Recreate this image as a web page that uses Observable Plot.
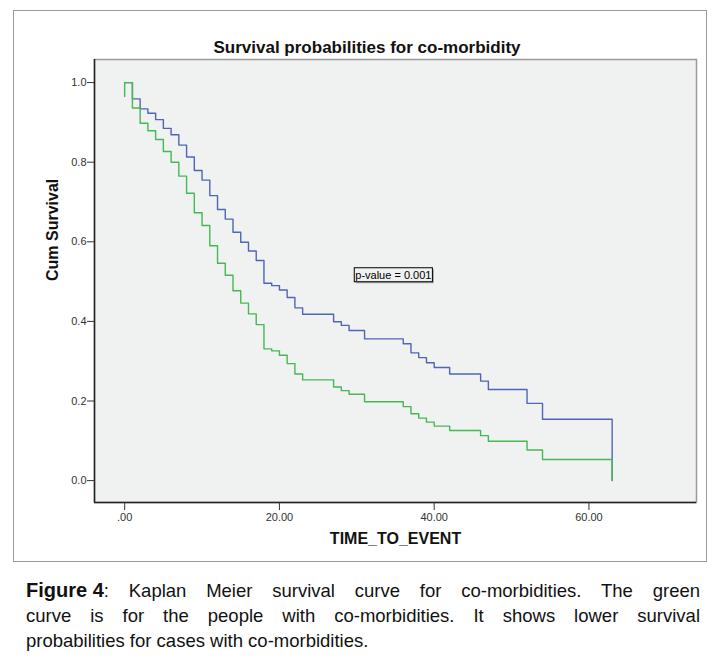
<!DOCTYPE html>
<html><head><meta charset="utf-8">
<script src="https://cdn.jsdelivr.net/npm/d3@7"></script>
<script src="https://cdn.jsdelivr.net/npm/@observablehq/plot@0.6"></script>
<style>
body{margin:0;background:#fff;width:717px;height:661px;overflow:hidden;font-family:"Liberation Sans",Arial,sans-serif;}
#wrap{position:relative;width:717px;height:661px;}
#chart{position:absolute;left:0;top:0;}
#border{position:absolute;left:13px;top:10px;width:692px;height:550px;border:1px solid #9a9a9a;pointer-events:none;}
#title{position:absolute;left:0;width:734px;top:38px;text-align:center;font-size:17px;line-height:20px;font-weight:bold;color:#111;}
#caption{position:absolute;left:26px;top:578px;width:674px;font-size:18.5px;line-height:25px;color:#111;}
#caption b{font-size:20px;display:inline-block;white-space:nowrap;}
.j{text-align:justify;text-align-last:justify;}
</style>
</head><body>
<div id="wrap">
  <div id="chart"></div>
  <div id="title">Survival probabilities for co-morbidity</div>
  <div id="border"></div>
  <div id="caption">
    <div class="j"><b>Figure 4</b>: Kaplan Meier survival curve for co-morbidities. The green</div>
    <div class="j">curve is for the people with co-morbidities. It shows lower survival</div>
    <div>probabilities for cases with co-morbidities.</div>
  </div>
</div>
<script>
// ---- data ----
const blueTimes = [0,1,2,3,4,5,6,7,8,9,10,11,12,13,14,15,16,17,18,19,20,21,22,23,27,28,29,31,36,37,38,39,40,42,46,47,52,54,63];
const blueSurv  = [1.0,0.959,0.934,0.923,0.907,0.885,0.869,0.843,0.813,0.779,0.755,0.716,0.681,0.657,0.624,0.599,0.577,0.553,0.496,0.490,0.479,0.460,0.434,0.418,0.399,0.390,0.377,0.356,0.344,0.321,0.309,0.296,0.284,0.268,0.250,0.229,0.194,0.154,0];
const greenTimes = [0,0,1,2,3,4,5,6,7,8,9,10,11,12,13,14,15,16,17,18,19,20,21,22,23,27,28,29,31,36,37,38,39,40,42,46,47,52,54,63];
const greenSurv  = [0.965,1.0,0.936,0.898,0.879,0.857,0.827,0.800,0.765,0.722,0.673,0.641,0.590,0.546,0.516,0.477,0.446,0.419,0.392,0.331,0.326,0.315,0.294,0.268,0.253,0.235,0.226,0.217,0.198,0.186,0.168,0.157,0.147,0.137,0.126,0.113,0.099,0.077,0.053,0];
const xTicks = [0,20,40,60];
const yTicks = [0,0.2,0.4,0.6,0.8,1.0];
const xDomain = [-3.9, 73.9];
const yDomain = [-0.055, 1.058];
const annotation = [{t: 29.8, s: 0.516, label: "p-value = 0.001"}];
const xTitle = "TIME_TO_EVENT";
const yTitle = "Cum Survival";

const blue = blueTimes.map((t, i) => ({t, s: blueSurv[i]}));
const green = greenTimes.map((t, i) => ({t, s: greenSurv[i]}));

const chart = Plot.plot({
  width: 717, height: 570,
  marginLeft: 94, marginRight: 21, marginTop: 59, marginBottom: 68,
  style: {background: "transparent", fontFamily: "Liberation Sans, Arial, sans-serif", color: "#333"},
  x: {domain: xDomain},
  y: {domain: yDomain},
  marks: [
    Plot.frame({fill: "#f0f1f1", stroke: "#9a9a9a", strokeWidth: 1.5}),
    Plot.ruleX([xDomain[0]], {stroke: "#222", strokeWidth: 1.5}),
    Plot.ruleY([yDomain[0]], {stroke: "#222", strokeWidth: 1.5}),
    Plot.axisY({ticks: yTicks, tickFormat: d3.format(".1f"), tickSize: 7, tickPadding: 1, fontSize: 11, label: null}),
    Plot.axisX({ticks: xTicks, tickFormat: d => d === 0 ? ".00" : d3.format(".2f")(d), tickSize: 8, tickPadding: 3, fontSize: 11, label: null}),
    Plot.line(blue, {x: "t", y: "s", curve: "step-after", stroke: "#4f66b8", strokeWidth: 1.4}),
    Plot.line(green, {x: "t", y: "s", curve: "step-after", stroke: "#45b954", strokeWidth: 1.4}),
    Plot.text(annotation, {x: "t", y: "s", text: "label", textAnchor: "start", fontSize: 11, fill: "#000"}),
    Plot.text([xTitle], {text: d => d, frameAnchor: "bottom", dy: 41, fontSize: 16, fontWeight: "bold", fill: "#111"}),
    Plot.text([yTitle], {text: d => d, frameAnchor: "left", dx: -42, rotate: -90, fontSize: 16, fontWeight: "bold", fill: "#111"})
  ]
});
document.getElementById("chart").appendChild(chart);

// box around the p-value annotation
const ptext = Array.from(chart.querySelectorAll("text")).find(t => t.textContent === annotation[0].label);
if (ptext) {
  const bb = ptext.getBBox();
  const g = ptext.parentNode;
  const ns = "http://www.w3.org/2000/svg";
  const tf = ptext.getAttribute("transform");
  const mk = (dx, fill, stroke) => {
    const r = document.createElementNS(ns, "rect");
    r.setAttribute("x", bb.x - 1 + dx); r.setAttribute("y", bb.y - 1 + dx);
    r.setAttribute("width", bb.width + 2); r.setAttribute("height", bb.height + 2);
    r.setAttribute("fill", fill);
    r.setAttribute("stroke", stroke); r.setAttribute("stroke-width", 1);
    if (tf) r.setAttribute("transform", tf);
    return r;
  };
  g.insertBefore(mk(1.5, "#aaa", "none"), ptext);
  g.insertBefore(mk(0, "#f0f1f1", "#000"), ptext);
}
</script>
</body></html>
